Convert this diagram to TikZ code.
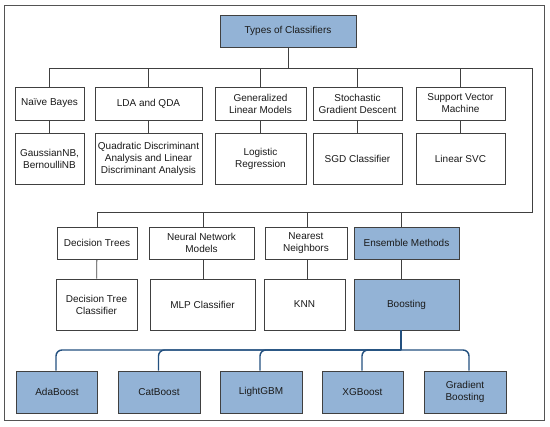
\documentclass[tikz,border=0pt]{standalone}
\usepackage{fontspec}
\setmainfont{Liberation Sans}
\definecolor{fillblue}{HTML}{93B3D6}
\definecolor{linegray}{HTML}{404040}
\definecolor{busblue}{HTML}{23507F}
\definecolor{txt}{HTML}{1A1A1A}
\begin{document}
\begin{tikzpicture}[x=1pt,y=-1pt,
  box/.style={draw=linegray,line width=0.8pt,fill=white,align=center,inner sep=1pt,
    font=\fontsize{10}{12}\selectfont,text=txt},
  bbox/.style={box,fill=fillblue},
  conn/.style={draw=linegray,line width=0.8pt},
  bconn/.style={draw=busblue,line width=1.4pt,rounded corners=6pt}]
\useasboundingbox (0,0) rectangle (550,427);
\draw[draw=linegray!90,line width=1pt] (4,6) rectangle (544,421);
% title
\node[bbox,minimum width=136,minimum height=32] (T) at (288,31) {Types of Classifiers};
% row 1
\node[box,minimum width=69,minimum height=33] (NB) at (49.5,103.5) {Naïve Bayes};
\node[box,minimum width=107,minimum height=33] (LDA) at (148.5,103.5) {LDA and QDA};
\node[box,minimum width=91,minimum height=33] (GLM) at (260.5,103.5) {Generalized\\Linear Models};
\node[box,minimum width=89,minimum height=33] (SGD) at (357.5,103.5) {Stochastic\\Gradient Descent};
\node[box,minimum width=89,minimum height=33] (SVM) at (460.5,103.5) {Support Vector\\Machine};
% row 2
\node[box,minimum width=69,minimum height=51] (GNB) at (49.5,158.5) {GaussianNB,\\BernoulliNB};
\node[box,minimum width=107,minimum height=51] (QDA) at (148.5,158.5) {Quadratic Discriminant\\Analysis and Linear\\Discriminant Analysis};
\node[box,minimum width=91,minimum height=51] (LR) at (260.5,158.5) {Logistic\\Regression};
\node[box,minimum width=89,minimum height=51] (SGDC) at (357.5,158.5) {SGD Classifier};
\node[box,minimum width=89,minimum height=51] (LSVC) at (460.5,158.5) {Linear SVC};
% row 3
\node[box,minimum width=80,minimum height=32] (DT) at (97,243) {Decision Trees};
\node[box,minimum width=105,minimum height=32] (NN) at (201.5,243) {Neural Network\\Models};
\node[box,minimum width=82,minimum height=32] (NNb) at (306,243) {Nearest\\Neighbors};
\node[bbox,minimum width=105,minimum height=32] (EM) at (406.5,243) {Ensemble Methods};
% row 4
\node[box,minimum width=81,minimum height=51] (DTC) at (96.5,304.5) {Decision Tree\\Classifier};
\node[box,minimum width=105,minimum height=51] (MLP) at (202.5,304.5) {MLP Classifier};
\node[box,minimum width=81,minimum height=51] (KNN) at (304.5,304.5) {KNN};
\node[bbox,minimum width=105,minimum height=51] (BO) at (406.5,304.5) {Boosting};
% row 5
\node[bbox,minimum width=81,minimum height=42] (ADA) at (57,392) {AdaBoost};
\node[bbox,minimum width=82,minimum height=42] (CAT) at (159,392) {CatBoost};
\node[bbox,minimum width=82,minimum height=42] (LGB) at (261,392) {LightGBM};
\node[bbox,minimum width=81,minimum height=42] (XGB) at (362.5,392) {XGBoost};
\node[bbox,minimum width=82,minimum height=42] (GB) at (465,392) {Gradient\\Boosting};
% buses
\coordinate (b1R) at (532,68);
\coordinate (b2R) at (532,212);
\coordinate (b3) at (401,350);
\draw[conn] (NB.north) -- (NB.north |- b1R) -- (b1R) -- (b2R) -- (DT.north |- b2R) -- (DT.north);
\draw[conn] (T.south) -- (T.south |- b1R);
\foreach \n in {LDA,GLM,SGD,SVM}{\draw[conn] (\n.north) -- (\n.north |- b1R);}
\foreach \a/\b in {NB/GNB,LDA/QDA,GLM/LR,SGD/SGDC,SVM/LSVC,DT/DTC}{\draw[conn] (\a) -- (\b);}
\draw[conn] ([xshift=1.5pt]NN.north) -- ([xshift=1.5pt]NN.north |- b2R);
\draw[conn] ([xshift=1pt]NNb.north) -- ([xshift=1pt]NNb.north |- b2R);
\draw[conn] ([xshift=-5.5pt]EM.north) -- ([xshift=-5.5pt]EM.north |- b2R);
\draw[conn] ([xshift=1.5pt]NN.south) -- ([xshift=1.5pt]NN.south |- MLP.north);
\draw[conn] ([xshift=1pt]NNb.south) -- ([xshift=1pt]NNb.south |- KNN.north);
\draw[conn] ([xshift=-5.5pt]EM.south) -- ([xshift=-5.5pt]EM.south |- BO.north);
% boosting bus
\draw[draw=busblue,line width=1.4pt] ([xshift=-5.5pt]BO.south) -- (b3);
\draw[bconn] (b3) -| ([xshift=-1pt]ADA.north);
\draw[bconn] (b3) -| ([xshift=-0.5pt]CAT.north);
\draw[bconn] (b3) -| ([xshift=-1pt]LGB.north);
\draw[bconn] (b3) -| ([xshift=-0.5pt]XGB.north);
\draw[bconn] (b3) -| ([xshift=4pt]GB.north);
\end{tikzpicture}
\end{document}
